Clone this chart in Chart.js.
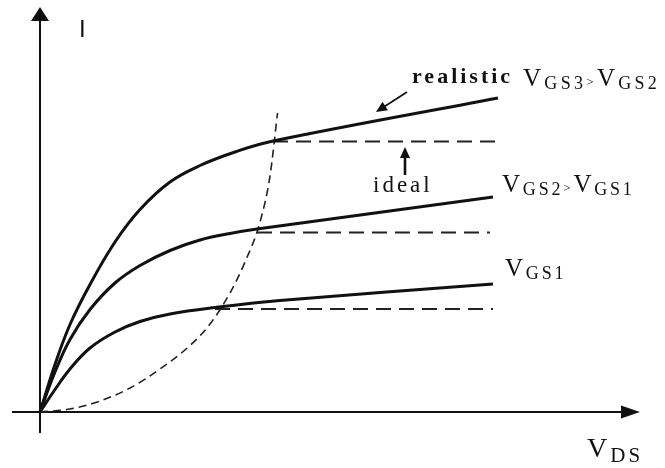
<!DOCTYPE html>
<html>
<head>
<meta charset="utf-8">
<title>MOSFET output characteristics</title>
<script src="https://cdn.jsdelivr.net/npm/chart.js@4/dist/chart.umd.min.js"></script>
<style>
  html, body { margin: 0; padding: 0; background: #fff; }
  #wrap { width: 665px; height: 468px; }
</style>
</head>
<body>
<div id="wrap"><canvas id="chart" width="665" height="468"></canvas></div>
<script>
// V_DS values and drain currents (arbitrary units) for each gate voltage
const vgs3_V = [0, 0.3, 0.6, 1.0, 1.5, 2.0, 2.6, 3.2, 3.9, 4.66, 9.16];
const vgs3_I = [0, 0.95, 1.75, 2.55, 3.4, 4.05, 4.6, 4.93, 5.2, 5.42, 6.28];

const vgs2_V = [0, 0.3, 0.6, 1.0, 1.5, 2.0, 2.6, 3.2, 3.8, 4.34, 9.06];
const vgs2_I = [0, 0.8, 1.45, 2.05, 2.58, 2.93, 3.23, 3.44, 3.57, 3.66, 4.3];

const vgs1_V = [0, 0.3, 0.6, 1.0, 1.5, 2.0, 2.6, 3.5, 4.8, 9.06];
const vgs1_I = [0, 0.45, 0.86, 1.28, 1.6, 1.81, 1.96, 2.09, 2.23, 2.56];

// ideal (flat) saturation currents: start V, end V, level
const ideal_start = [4.66, 4.34, 3.5];
const ideal_end = [9.1, 9.0, 9.06];
const ideal_I = [5.41, 3.59, 2.06];

// saturation boundary V_DS,sat
const sat_V = [0, 0.6, 1.2, 1.8, 2.4, 3.0, 3.4, 3.8, 4.1, 4.4, 4.6, 4.75];
const sat_I = [0, 0.06, 0.22, 0.48, 0.86, 1.33, 1.76, 2.38, 3.0, 3.8, 4.72, 5.98];

const X_MIN = -0.8, X_MAX = 12.5;
const Y_MIN = -1.12, Y_MAX = 8.24;

const toPoints = (xs, ys) => xs.map((x, i) => ({ x: x, y: ys[i] }));

const ink = '#111';

function solid(xs, ys) {
  return {
    data: toPoints(xs, ys),
    showLine: true,
    borderColor: ink,
    borderWidth: 3,
    tension: 0.4,
    pointRadius: 0
  };
}

function dashed(points, dash, width) {
  return {
    data: points,
    showLine: true,
    borderColor: '#222',
    borderWidth: width,
    borderDash: dash,
    cubicInterpolationMode: 'monotone',
    pointRadius: 0
  };
}

const datasets = [
  solid(vgs3_V, vgs3_I),
  solid(vgs2_V, vgs2_I),
  solid(vgs1_V, vgs1_I),
  dashed(toPoints(sat_V, sat_I), [8, 5], 1.6)
];
ideal_I.forEach((lvl, i) => {
  datasets.push(dashed([{ x: ideal_start[i], y: lvl }, { x: ideal_end[i], y: lvl }], [15, 8], 1.8));
});

function arrowHead(ctx, x, y, angle, len, half) {
  ctx.save();
  ctx.translate(x, y);
  ctx.rotate(angle);
  ctx.beginPath();
  ctx.moveTo(0, 0);
  ctx.lineTo(-len, -half);
  ctx.lineTo(-len, half);
  ctx.closePath();
  ctx.fill();
  ctx.restore();
}

function arrow(ctx, x0, y0, x1, y1, len, half, width) {
  const a = Math.atan2(y1 - y0, x1 - x0);
  ctx.lineWidth = width;
  ctx.beginPath();
  ctx.moveTo(x0, y0);
  ctx.lineTo(x1 - Math.cos(a) * len * 0.8, y1 - Math.sin(a) * len * 0.8);
  ctx.stroke();
  arrowHead(ctx, x1, y1, a, len, half);
}

// text with subscripts: parts = [text, size, dy]
function rich(ctx, x, y, parts, spacing) {
  ctx.letterSpacing = spacing + 'px';
  parts.forEach(([txt, size, dy]) => {
    ctx.font = size + 'px "Liberation Serif", "Times New Roman", serif';
    ctx.fillText(txt, x, y + dy);
    x += ctx.measureText(txt).width;
  });
  ctx.letterSpacing = '0px';
}

const axesAndNotes = {
  id: 'axesAndNotes',
  beforeDatasetsDraw(chart) {
    const { ctx, scales: { x, y } } = chart;
    const ox = x.getPixelForValue(0), oy = y.getPixelForValue(0);
    ctx.save();
    ctx.strokeStyle = ink;
    ctx.fillStyle = ink;
    ctx.lineWidth = 2;
    // V_DS axis
    const xl = x.getPixelForValue(-0.56), xr = x.getPixelForValue(12.0);
    ctx.beginPath();
    ctx.moveTo(xl, oy);
    ctx.lineTo(xr - 14, oy);
    ctx.stroke();
    arrowHead(ctx, xr, oy, 0, 19, 6.5);
    // I axis
    const yb = y.getPixelForValue(-0.42), yt = y.getPixelForValue(8.1);
    ctx.beginPath();
    ctx.moveTo(ox, yb);
    ctx.lineTo(ox, yt + 10);
    ctx.stroke();
    arrowHead(ctx, ox, yt, -Math.PI / 2, 14, 9);
    ctx.restore();
  },
  afterDatasetsDraw(chart) {
    const { ctx, scales: { x, y } } = chart;
    const px = v => x.getPixelForValue(v), py = v => y.getPixelForValue(v);
    ctx.save();
    ctx.fillStyle = ink;
    ctx.strokeStyle = ink;
    ctx.textBaseline = 'alphabetic';

    // axis titles
    ctx.font = '24px "Liberation Sans", Arial, sans-serif';
    ctx.fillText('I', px(0.78), py(7.5));
    rich(ctx, px(10.94), py(-0.9), [['V', 28, 0], ['DS', 21, 5]], 3);

    // "realistic" pointer
    ctx.font = 'bold 22px "Liberation Serif", "Times New Roman", serif';
    ctx.letterSpacing = '3px';
    ctx.fillText('realistic', px(7.44), py(6.58));
    ctx.letterSpacing = '0px';
    arrow(ctx, px(7.34), py(6.4), px(6.72), py(6.0), 11, 5, 1.8);

    // "ideal" pointer
    ctx.font = '23px "Liberation Serif", "Times New Roman", serif';
    ctx.letterSpacing = '3px';
    ctx.fillText('ideal', px(6.66), py(4.4));
    ctx.letterSpacing = '0px';
    arrow(ctx, px(7.3), py(4.74), px(7.3), py(5.3), 11, 5, 2.6);

    // gate voltage labels
    rich(ctx, px(9.66), py(6.52), [['V', 25, 0], ['GS3', 18, 3], ['>', 13, 0], ['V', 25, 0], ['GS2', 18, 3]], 3.3);
    rich(ctx, px(9.24), py(4.4), [['V', 25, 0], ['GS2', 18, 3], ['>', 13, 0], ['V', 25, 0], ['GS1', 18, 3]], 2.8);
    rich(ctx, px(9.3), py(2.72), [['V', 25, 0], ['GS1', 18, 3]], 2.8);
    ctx.restore();
  }
};

new Chart(document.getElementById('chart'), {
  type: 'scatter',
  data: { datasets: datasets },
  options: {
    responsive: false,
    devicePixelRatio: 1,
    animation: false,
    layout: { padding: 0 },
    plugins: { legend: { display: false }, tooltip: { enabled: false } },
    scales: {
      x: { type: 'linear', min: X_MIN, max: X_MAX, display: false },
      y: { type: 'linear', min: Y_MIN, max: Y_MAX, display: false }
    }
  },
  plugins: [axesAndNotes]
});
</script>
</body>
</html>
